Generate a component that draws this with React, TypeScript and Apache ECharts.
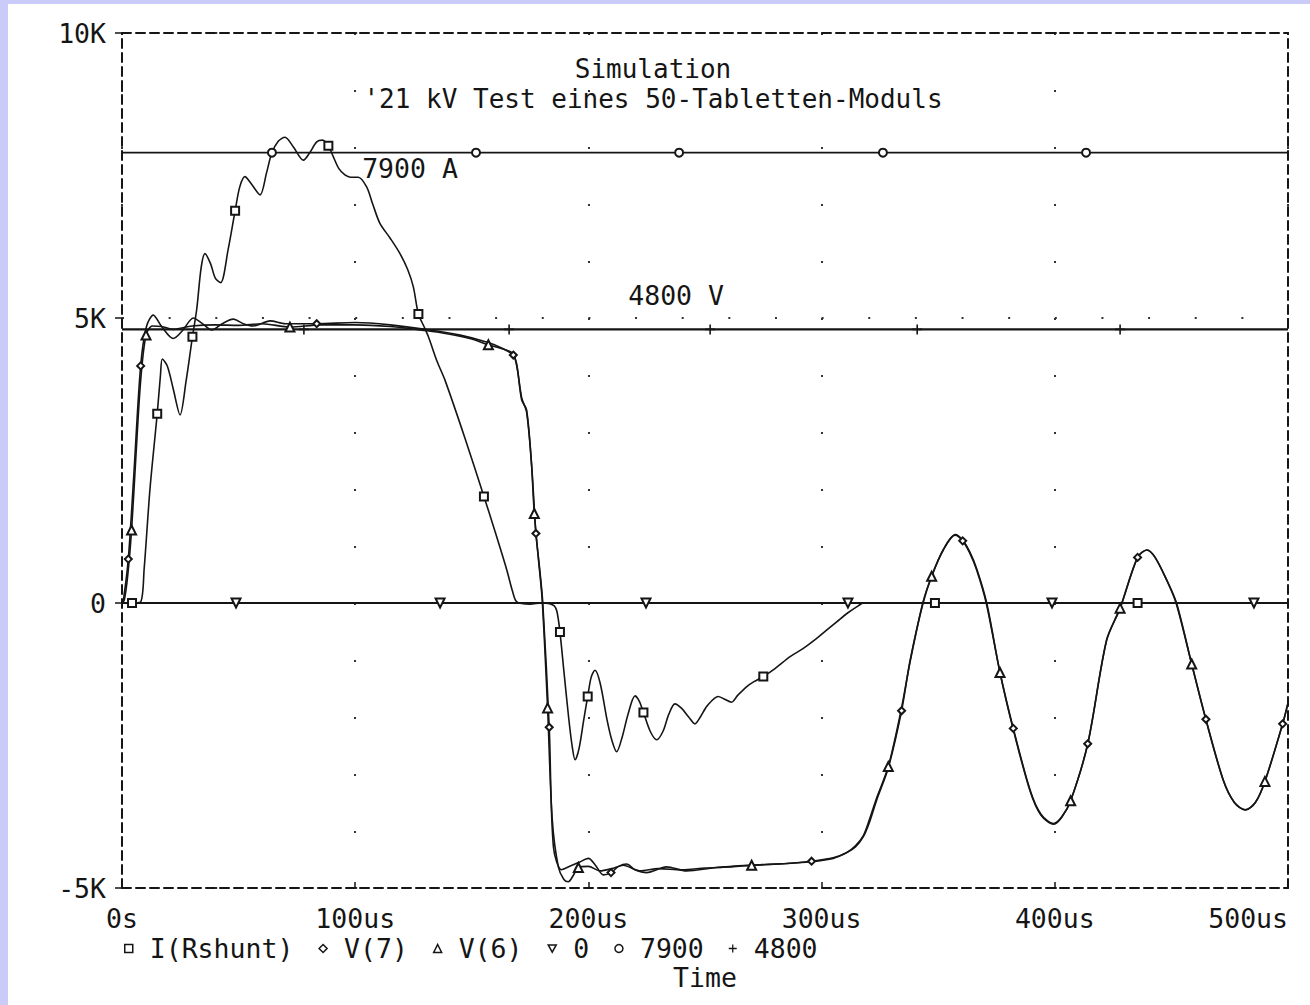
import React, { useEffect, useRef } from 'react';
import * as echarts from 'echarts';

const FONT = '"DejaVu Sans Mono", monospace';
const INK = '#151515';
const FRAME = '#cbcbf9';

const titleLines = ['Simulation', "'21 kV Test eines 50-Tabletten-Moduls"];
const seriesNames = ['I(Rshunt)', 'V(7)', 'V(6)', '0', '7900', '4800'];
const xTicks = [0, 100, 200, 300, 400, 500];
const yTicks = [-5, 0, 5, 10];
const annotationA = { t: 123.5, v: 7.62, text: '7900 A' };
const annotationV = { t: 237.6, v: 5.39, text: '4800 V' };

// time in us, value in K (kA / kV)
const iRshunt: [number, number][] = [
  [0, 0], [4.3, 0], [8, 0.02], [9.5, 0.6], [12, 2.0], [15.1, 3.32], [16.5, 4.0], [17.3, 4.28], [19.5, 4.15],
  [22, 3.75], [24.9, 3.3], [27.5, 3.9], [30.2, 4.67], [32, 5.14], [34, 5.9], [35.6, 6.13], [38, 5.95], [40, 5.7],
  [42.3, 5.62], [45.5, 6.2], [48.5, 6.88], [50.5, 7.3], [52.7, 7.48], [55.5, 7.35], [59.2, 7.16], [62, 7.55],
  [64.2, 7.89], [67, 8.1], [69.9, 8.17], [73.5, 8.0], [77.8, 7.77], [80.5, 7.9], [83.5, 8.09], [86, 8.12],
  [88.5, 8.02], [90.6, 7.83], [93, 7.62], [95.6, 7.51], [98, 7.47], [101.3, 7.47], [104.9, 7.3], [107.5, 7.0],
  [110.6, 6.66], [115, 6.4], [119.2, 6.13], [122.5, 5.85], [124.9, 5.55], [127.1, 5.07], [129.5, 4.85],
  [131.4, 4.67], [135, 4.25], [138.5, 3.91], [147, 2.9], [155.2, 1.87], [160, 1.25], [165, 0.58], [167.5, 0.2],
  [169.3, 0.02], [175, -0.02], [180, 0], [185, -0.04], [186.5, -0.15], [187.8, -0.51], [189.5, -1.2],
  [191.5, -2.0], [193, -2.5], [194.3, -2.75], [196, -2.55], [198, -2.05], [199.7, -1.64], [201.2, -1.3],
  [202.8, -1.18], [205, -1.4], [208, -2.05], [210, -2.4], [212.1, -2.61], [214.5, -2.35], [217, -1.95],
  [220, -1.63], [221.8, -1.72], [223.6, -1.92], [226.5, -2.25], [229.3, -2.4], [232, -2.25], [234.5, -1.95],
  [237.1, -1.77], [240, -1.85], [243, -2.0], [245.7, -2.12], [248, -2.0], [251, -1.8], [255.7, -1.64],
  [258, -1.68], [261.4, -1.74], [264, -1.62], [267.8, -1.47], [271, -1.38], [275, -1.29], [280, -1.15],
  [286.5, -0.94], [292, -0.8], [297.9, -0.62], [302, -0.48], [306.5, -0.33], [311, -0.18], [315.7, -0.05],
  [318, 0], [348.6, 0], [435.5, 0], [500, 0],
];
const iRshuntMarks = [4.3, 15.1, 30.2, 48.5, 88.5, 127.1, 155.2, 187.8, 199.7, 223.6, 275, 348.6, 435.5];

const v7: [number, number][] = [
  [0, 0], [0.6, 0.05], [2.7, 0.77], [5, 2.2], [8, 4.16], [10.5, 4.85], [13.4, 5.05], [17, 4.85], [22, 4.64],
  [26, 4.78], [30.6, 5.0], [34.5, 4.9], [38.5, 4.79], [43, 4.9], [47.7, 4.98], [52, 4.9], [56.3, 4.86],
  [63.5, 4.95], [70, 4.9], [83.5, 4.9], [100, 4.92], [115, 4.88], [130, 4.8], [145, 4.7], [157, 4.57],
  [163, 4.47], [167.8, 4.35], [169.3, 4.18], [171.4, 3.56], [173.5, 3.39], [175.7, 2.39], [177.5, 1.22],
  [179, 0.64], [180.4, 0.02], [183.2, -2.18], [185, -4.28], [188.5, -4.68], [192, -4.62], [196, -4.55],
  [200, -4.48], [203, -4.6], [206.4, -4.77], [209.7, -4.73], [213, -4.62], [216.4, -4.58], [220, -4.68],
  [225, -4.73], [233.5, -4.63], [242.1, -4.7], [255, -4.64], [270, -4.6], [285, -4.57], [295.7, -4.53],
  [305, -4.47], [310.7, -4.38], [314.5, -4.28], [317.9, -4.1], [320.5, -3.85], [323.6, -3.46], [328.6, -2.89],
  [334.3, -1.89], [338, -1.0], [343.5, 0], [347.2, 0.47], [352.2, 0.93], [357.2, 1.19], [360.5, 1.09],
  [363.5, 0.88], [366.5, 0.58], [370.6, 0], [376.5, -1.22], [382.2, -2.2], [389.4, -3.28], [394, -3.7],
  [399.4, -3.87], [403, -3.75], [406.8, -3.47], [414.1, -2.47], [422.2, -0.65], [428, -0.09], [435.5, 0.8],
  [439.4, 0.93], [443, 0.8], [448, 0.4], [452, 0], [458.7, -1.07], [464.8, -2.04], [472.3, -3.11], [477, -3.5],
  [481.6, -3.63], [486, -3.5], [490.1, -3.13], [497.7, -2.12], [500, -1.75],
];
const v7Marks = [2.7, 8, 83.5, 167.8, 177.5, 183.2, 209.7, 295.7, 334.3, 360.5, 382.2, 414.1, 435.5, 464.8, 497.7];

const v6: [number, number][] = [
  [0, 0], [1, 0.05], [2.5, 0.5], [4.1, 1.28], [6, 2.6], [8, 3.9], [10.3, 4.7], [13, 4.86], [17, 4.85], [22, 4.8],
  [30, 4.86], [40, 4.88], [50, 4.87], [60, 4.9], [72, 4.84], [85, 4.88], [100, 4.88], [115, 4.85], [130, 4.78],
  [140, 4.72], [150, 4.63], [157.1, 4.53], [163, 4.46], [167.5, 4.38], [169.3, 4.15], [171.4, 3.6],
  [173.5, 3.35], [175.5, 2.5], [176.8, 1.57], [178.5, 0.8], [180.2, 0.05], [182.5, -1.84], [184.5, -3.8],
  [187.1, -4.63], [189.5, -4.85], [191.4, -4.89], [193.5, -4.78], [195.7, -4.64], [200, -4.62], [205, -4.7],
  [210, -4.66], [215, -4.6], [222, -4.7], [230, -4.66], [240, -4.68], [250, -4.65], [260, -4.63], [270, -4.6],
  [285, -4.57], [295, -4.54], [305, -4.48], [310.7, -4.38], [314.5, -4.26], [317.9, -4.08], [320.5, -3.8],
  [323.6, -3.42], [328.6, -2.87], [334, -1.9], [338, -1.02], [343.4, 0], [347.2, 0.47], [352.2, 0.94],
  [357.4, 1.2], [360.5, 1.1], [363.5, 0.9], [366.5, 0.6], [370.8, 0], [376.5, -1.22], [382.2, -2.22],
  [389.4, -3.3], [394, -3.72], [399.6, -3.88], [403, -3.76], [406.8, -3.47], [414.1, -2.48], [422.2, -0.66],
  [428, -0.09], [435.5, 0.8], [439.6, 0.93], [443, 0.8], [448, 0.4], [452.2, 0], [458.7, -1.07], [464.8, -2.05],
  [472.3, -3.12], [477, -3.5], [481.8, -3.63], [486, -3.5], [490.1, -3.13], [497.7, -2.12], [500, -1.76],
];
const v6Marks = [4.1, 10.3, 72, 157.1, 176.8, 182.5, 195.7, 270, 328.6, 347.2, 376.5, 406.8, 428, 458.7, 490.1];

const zeroLevel = 0;
const zeroTimes = [0, 48.9, 136.4, 224.7, 311.3, 398.8, 485.4, 500];
const level7900 = 7.9;
const times7900 = [0, 64.3, 151.8, 238.9, 326.3, 413.4, 500];
const level4800 = 4.8;
const times4800 = [0, 78, 166, 252.2, 341, 428, 500];

const PLUS = 'path://M4.2,0H5.8V4.2H10V5.8H5.8V10H4.2V5.8H0V4.2H4.2Z';
const DOWN_TRI = 'path://M0,0L10,0L5,9Z';

function marked(points: [number, number][], marks: number[], symbol: string) {
  return points.map(([t, v]) => ({ value: [t, v], symbol: marks.includes(t) ? symbol : 'none' }));
}
function levelLine(times: number[], level: number, symbol: string) {
  return times.map((t, i) => ({
    value: [t, level],
    symbol: i === 0 || i === times.length - 1 ? 'none' : symbol,
  }));
}

export default function App() {
  const ref = useRef<HTMLDivElement>(null);
  useEffect(() => {
    if (!ref.current) return;
    const chart = echarts.init(ref.current, undefined, { renderer: 'svg' });
    const txt = { fontFamily: FONT, fontSize: 26.5, color: INK };
    const titleTxt = { fontFamily: FONT, fontSize: 26, color: INK, fontWeight: 'normal', lineHeight: 26 };
    const dashed = { color: INK, width: 2, type: [9, 5] as number[] };
    const hollow = { color: '#fff', borderColor: INK, borderWidth: 1.5 };
    const legendText = { ...txt, padding: [0, 0, 0, 12] };
    const lineBase = {
      type: 'line' as const,
      symbol: 'none',
      showSymbol: true,
      silent: true,
      itemStyle: { color: INK, borderWidth: 1.3 },
      xAxisIndex: 0,
      yAxisIndex: 0,
    };
    chart.setOption({
      animation: false,
      backgroundColor: '#fff',
      title: {
        text: titleLines[0],
        subtext: titleLines[1],
        left: 645,
        top: 52,
        padding: 0,
        itemGap: 4,
        textAlign: 'center',
        textStyle: titleTxt,
        subtextStyle: titleTxt,
      },
      grid: { left: 114, top: 29, width: 1166, height: 855 },
      legend: {
        left: 111,
        top: 926,
        itemWidth: 8,
        itemHeight: 8,
        itemGap: 25,
        selectedMode: false,
        textStyle: legendText,
        data: [
          { name: seriesNames[0], icon: 'rect', itemStyle: hollow },
          { name: seriesNames[1], icon: 'diamond', itemStyle: hollow },
          { name: seriesNames[2], icon: 'triangle', itemStyle: hollow },
          { name: seriesNames[3], icon: DOWN_TRI, itemStyle: hollow },
          { name: seriesNames[4], icon: 'circle', itemStyle: hollow },
          { name: seriesNames[5], icon: PLUS, itemStyle: { color: INK, borderWidth: 0 } },
        ],
      },
      xAxis: [
        {
          type: 'value',
          min: 0,
          max: 500,
          interval: 100,
          name: 'Time',
          nameLocation: 'middle',
          nameGap: 76,
          nameTextStyle: txt,
          axisLine: { show: true, onZero: false, lineStyle: dashed },
          axisTick: { show: true, inside: true, length: 6, lineStyle: { color: INK, width: 1.5 } },
          axisLabel: {
            ...txt,
            margin: 17,
            alignMaxLabel: 'right',
            formatter: (v: number) => (xTicks.includes(v) ? (v === 0 ? '0s' : v + 'us') : ''),
          },
          splitLine: { show: true, lineStyle: { color: '#333', width: 2, type: [2, 55] } },
        },
        {
          type: 'value',
          position: 'top',
          min: 0,
          max: 500,
          interval: 100,
          axisLine: { show: true, onZero: false, lineStyle: dashed },
          axisTick: { show: false },
          axisLabel: { show: false },
          splitLine: { show: false },
        },
      ],
      yAxis: [
        {
          type: 'value',
          min: -5,
          max: 10,
          interval: 5,
          axisLine: { show: true, onZero: false, lineStyle: dashed },
          axisTick: { show: true, length: 7, lineStyle: { color: INK, width: 1.5 } },
          axisLabel: {
            ...txt,
            margin: 16,
            formatter: (v: number) => (yTicks.includes(v) ? (v === 0 ? '0' : v + 'K') : ''),
          },
          splitLine: { show: true, lineStyle: { color: '#333', width: 2, type: [2, 44.64] } },
        },
        {
          type: 'value',
          position: 'right',
          min: -5,
          max: 10,
          interval: 5,
          axisLine: { show: true, onZero: false, lineStyle: dashed },
          axisTick: { show: false },
          axisLabel: { show: false },
          splitLine: { show: false },
        },
      ],
      series: [
        {
          ...lineBase,
          name: seriesNames[0],
          smooth: 0.3,
          symbolSize: 8,
          lineStyle: { color: INK, width: 1.6 },
          data: marked(iRshunt, iRshuntMarks, 'emptyRect'),
        },
        {
          ...lineBase,
          name: seriesNames[1],
          smooth: 0.3,
          symbolSize: 7,
          lineStyle: { color: INK, width: 1.6 },
          data: marked(v7, v7Marks, 'emptyDiamond'),
        },
        {
          ...lineBase,
          name: seriesNames[2],
          smooth: 0.3,
          symbolSize: 9,
          lineStyle: { color: INK, width: 1.6 },
          data: marked(v6, v6Marks, 'emptyTriangle'),
        },
        {
          ...lineBase,
          name: seriesNames[3],
          symbolSize: 9,
          symbolRotate: 180,
          lineStyle: { color: INK, width: 2 },
          data: levelLine(zeroTimes, zeroLevel, 'emptyTriangle'),
        },
        {
          ...lineBase,
          name: seriesNames[4],
          symbolSize: 8,
          lineStyle: { color: INK, width: 1.8 },
          data: levelLine(times7900, level7900, 'emptyCircle'),
          markPoint: {
            silent: true,
            symbol: 'rect',
            symbolSize: 1,
            itemStyle: { color: 'rgba(0,0,0,0)' },
            label: { show: true, position: 'inside', ...txt, formatter: annotationA.text },
            data: [{ coord: [annotationA.t, annotationA.v] }],
          },
        },
        {
          ...lineBase,
          name: seriesNames[5],
          symbolSize: 10,
          itemStyle: { color: INK, borderWidth: 0 },
          lineStyle: { color: INK, width: 2.4 },
          data: levelLine(times4800, level4800, PLUS),
          markPoint: {
            silent: true,
            symbol: 'rect',
            symbolSize: 1,
            itemStyle: { color: 'rgba(0,0,0,0)' },
            label: { show: true, position: 'inside', ...txt, formatter: annotationV.text },
            data: [{ coord: [annotationV.t, annotationV.v] }],
          },
        },
      ],
    });
    return () => chart.dispose();
  }, []);

  return (
    <div
      style={{
        position: 'absolute',
        left: 0,
        top: 0,
        width: 1302,
        height: 1001,
        borderLeft: `8px solid ${FRAME}`,
        borderTop: `4px solid ${FRAME}`,
        background: '#fff',
      }}
    >
      <div ref={ref} style={{ width: 1302, height: 1001 }} />
    </div>
  );
}
